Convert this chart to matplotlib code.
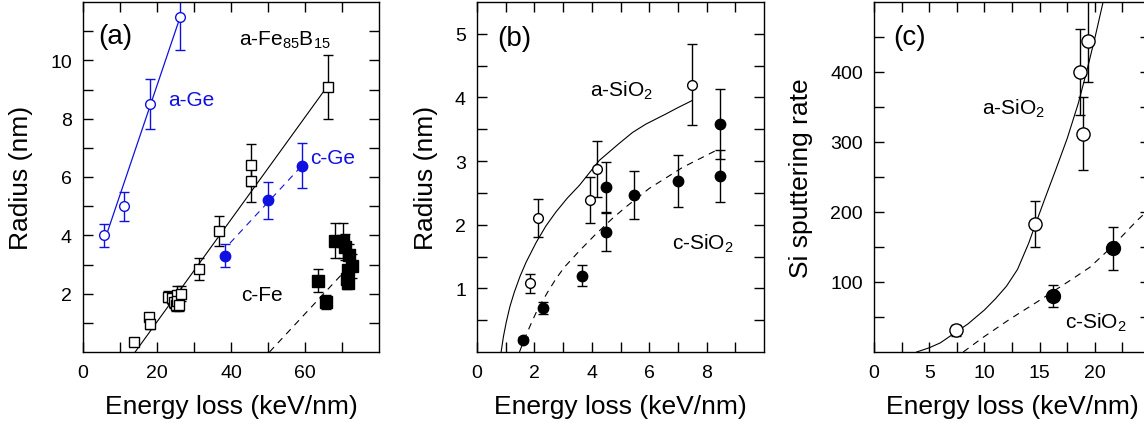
import numpy as np
import matplotlib
matplotlib.use("Agg")
import matplotlib.pyplot as plt
from matplotlib.ticker import FixedLocator

plt.rcParams['font.family'] = ['Liberation Sans', 'DejaVu Sans']
plt.rcParams['mathtext.fontset'] = 'custom'
plt.rcParams['mathtext.rm'] = 'Liberation Sans'
plt.rcParams['mathtext.it'] = 'Liberation Sans:italic'

BLUE = '#1010e0'

# ---- panel (a): radius vs energy loss, Ge and Fe
age_x = [5.8, 11.1, 18.1, 26.3]
age_y = [4.0, 5.0, 8.5, 11.5]
age_err = [0.4, 0.5, 0.87, 1.15]
age_fit_x = [5.9, 26.3]
age_fit_y = [3.85, 11.5]

cge_x = [38.4, 50.1, 59.1]
cge_y = [3.3, 5.2, 6.38]
cge_err = [0.39, 0.63, 0.77]
cge_fit_x = [39.7, 59.1]
cge_fit_y = [3.73, 6.38]

afe_x = [13.8, 17.9, 18.1, 22.9, 24.1, 24.6, 25.0, 25.3, 25.5, 26.0, 26.4, 31.4, 36.8, 45.3, 45.3, 66.1]
afe_y = [0.35, 1.2, 0.95, 1.9, 1.85, 1.7, 1.6, 1.95, 1.75, 1.6, 2.0, 2.85, 4.15, 6.4, 5.85, 9.1]
afe_err = [0.1, 0.15, 0.15, 0.2, 0.2, 0.2, 0.2, 0.3, 0.2, 0.2, 0.25, 0.38, 0.52, 0.72, 0.7, 1.1]
afe_fit_x = [14.1, 66.1]
afe_fit_y = [0.0, 9.12]

cfe_x = [63.6, 65.7, 68.1, 70.4, 70.8, 72.0, 72.6, 71.7, 71.3, 71.7]
cfe_y = [2.45, 1.7, 3.82, 3.82, 3.6, 3.32, 2.95, 2.8, 2.52, 2.35]
cfe_err = [0.38, 0.24, 0.6, 0.6, 0.45, 0.4, 0.4, 0.4, 0.35, 0.15]
cfe_fit_x = [50.4, 70.8]
cfe_fit_y = [0.0, 2.78]

# ---- panel (b): SiO2 radius
asio_x = [1.83, 2.12, 3.94, 4.18, 7.49]
asio_y = [1.08, 2.10, 2.39, 2.88, 4.2]
asio_err = [0.15, 0.3, 0.36, 0.44, 0.64]
asio_fit_x = [0.84, 0.92, 1.02, 1.15, 1.30, 1.50, 1.71, 2.06, 2.40, 2.75, 3.15, 3.57, 4.26, 4.96, 5.42, 5.88, 6.58, 7.0, 7.49]
asio_fit_y = [0.0, 0.24, 0.47, 0.72, 0.94, 1.19, 1.41, 1.72, 1.98, 2.20, 2.42, 2.62, 3.01, 3.28, 3.45, 3.58, 3.74, 3.84, 3.95]

csio_x = [1.59, 2.29, 3.66, 4.49, 4.49, 5.48, 7.02, 8.46, 8.46]
csio_y = [0.19, 0.69, 1.2, 2.59, 1.88, 2.47, 2.69, 3.58, 2.77]
csio_err = [0.04, 0.1, 0.17, 0.39, 0.3, 0.38, 0.41, 0.55, 0.41]
csio_fit_x = [1.48, 1.65, 1.83, 2.10, 2.46, 2.75, 3.04, 3.57, 4.09, 4.72, 5.19, 6.0, 7.16, 8.43]
csio_fit_y = [0.0, 0.20, 0.39, 0.66, 0.94, 1.15, 1.33, 1.59, 1.83, 2.10, 2.28, 2.57, 2.90, 3.19]

# ---- panel (c): Si sputtering rate
sa_x = [7.39, 14.57, 18.64, 18.94, 19.34]
sa_y = [31, 183, 400, 312, 445]
sa_err = [8, 33, 62, 52, 59]
sa_fit_x = [3.86, 5.0, 6.0, 7.39, 8.5, 10.0, 11.0, 12.0, 13.0, 14.0, 14.57, 15.5, 16.5, 17.5, 18.5, 19.25, 20.0, 20.75]
sa_fit_y = [0, 6, 13, 28, 40, 60, 76, 94, 118, 155, 180, 220, 262, 305, 355, 400, 448, 500]

sc_x = [16.23, 21.66]
sc_y = [80, 148]
sc_err = [16, 31]
sc_fit_x = [8.08, 9.89, 12.31, 14.72, 17.74, 19.55, 21.66, 23.77, 25.0]
sc_fit_y = [0, 21, 47, 71, 102, 121, 152, 187, 205]

fig = plt.figure(figsize=(11.44, 4.31), dpi=100)
H = 431.0
W = 1144.0
def box(l, r, t, b):
    return [l / W, (H - b) / H, (r - l) / W, (b - t) / H]

axa = fig.add_axes(box(83, 379, 3, 353))
axb = fig.add_axes(box(477, 764, 3, 353))
axc = fig.add_axes(box(874, 1150, 3, 353))

def style(ax, xmaj, xmin, ymaj, ymin):
    ax.xaxis.set_major_locator(FixedLocator(xmaj))
    ax.xaxis.set_minor_locator(FixedLocator(xmin))
    ax.yaxis.set_major_locator(FixedLocator(ymaj))
    ax.yaxis.set_minor_locator(FixedLocator(ymin))
    ax.tick_params(which='both', direction='in', top=True, right=True,
                   length=7, width=1, labelsize=14)
    ax.tick_params(axis='x', pad=9)
    ax.tick_params(axis='y', pad=8)
    for s in ax.spines.values():
        s.set_linewidth(1)
    ax.set_xlabel('Energy loss (keV/nm)', fontsize=19, labelpad=9)

eb = dict(ls='none', capsize=3.5, elinewidth=1, capthick=1)

# (a)
axa.plot(age_fit_x, age_fit_y, '-', color=BLUE, lw=0.9)
axa.plot(afe_fit_x, afe_fit_y, '-', color='k', lw=0.8)
axa.plot(cge_fit_x, cge_fit_y, '--', color=BLUE, lw=0.8, dashes=(6, 5))
axa.plot(cfe_fit_x, cfe_fit_y, '--', color='k', lw=0.8, dashes=(6, 5))
axa.errorbar(age_x, age_y, yerr=age_err, fmt='o', ms=7, mfc='white', mec=BLUE,
             color=BLUE, mew=1, **eb)
axa.errorbar(afe_x, afe_y, yerr=afe_err, fmt='s', ms=7, mfc='white', mec='k',
             color='k', mew=1, **eb)
axa.errorbar(cge_x, cge_y, yerr=cge_err, fmt='o', ms=7.5, mfc=BLUE, mec=BLUE,
             color=BLUE, **eb)
axa.errorbar(cfe_x, cfe_y, yerr=cfe_err, fmt='s', ms=8, mfc='k', mec='k',
             color='k', **eb)
axa.set_xlim(0, 80)
axa.set_ylim(0, 12)
style(axa, [0, 20, 40, 60], [10, 30, 50, 70], [2, 4, 6, 8, 10], [1, 3, 5, 7, 9, 11])
axa.set_ylabel('Radius (nm)', fontsize=19, labelpad=12)
axa.text(0.05, 0.903, '(a)', transform=axa.transAxes, fontsize=20, va='center')
axa.text(0.527, 0.878, 'a-Fe$_{85}$B$_{15}$', transform=axa.transAxes, fontsize=15,
         va='baseline')
axa.text(0.286, 0.72, 'a-Ge', transform=axa.transAxes, fontsize=15, va='center', color=BLUE)
axa.text(0.767, 0.557, 'c-Ge', transform=axa.transAxes, fontsize=15, va='center', color=BLUE)
axa.text(0.533, 0.163, 'c-Fe', transform=axa.transAxes, fontsize=15, va='center')

# (b)
axb.plot(asio_fit_x, asio_fit_y, '-', color='k', lw=0.8)
axb.plot(csio_fit_x, csio_fit_y, '--', color='k', lw=0.8, dashes=(6, 5))
axb.errorbar(asio_x, asio_y, yerr=asio_err, fmt='o', ms=7, mfc='white', mec='k',
             color='k', mew=1, **eb)
axb.errorbar(csio_x, csio_y, yerr=csio_err, fmt='o', ms=7.5, mfc='k', mec='k',
             color='k', **eb)
axb.set_xlim(0, 10)
axb.set_ylim(0, 5.5)
style(axb, [0, 2, 4, 6, 8], [1, 3, 5, 7, 9], [1, 2, 3, 4, 5], [0.5, 1.5, 2.5, 3.5, 4.5])
axb.set_ylabel('Radius (nm)', fontsize=19, labelpad=12)
axb.text(0.069, 0.897, '(b)', transform=axb.transAxes, fontsize=20, va='center')
axb.text(0.394, 0.749, 'a-SiO$_2$', transform=axb.transAxes, fontsize=15, va='center')
axb.text(0.678, 0.313, 'c-SiO$_2$', transform=axb.transAxes, fontsize=15, va='center')

# (c)
axc.plot(sa_fit_x, sa_fit_y, '-', color='k', lw=0.8)
axc.plot(sc_fit_x, sc_fit_y, '--', color='k', lw=0.8, dashes=(6, 5))
axc.errorbar(sa_x, sa_y, yerr=sa_err, fmt='o', ms=9.5, mfc='white', mec='k',
             color='k', mew=1, **eb)
axc.errorbar(sc_x, sc_y, yerr=sc_err, fmt='o', ms=10, mfc='k', mec='k',
             color='k', **eb)
axc.set_xlim(0, 25)
axc.set_ylim(0, 500)
style(axc, [0, 5, 10, 15, 20], [2.5, 7.5, 12.5, 17.5, 22.5],
      [100, 200, 300, 400], [50, 150, 250, 350, 450])
axc.set_ylabel('Si sputtering rate', fontsize=19, labelpad=12)
axc.text(0.07, 0.9, '(c)', transform=axc.transAxes, fontsize=20, va='center')
axc.text(0.39, 0.699, 'a-SiO$_2$', transform=axc.transAxes, fontsize=15, va='center')
axc.text(0.692, 0.085, 'c-SiO$_2$', transform=axc.transAxes, fontsize=15, va='center')

fig.savefig('out.png', dpi=100)
